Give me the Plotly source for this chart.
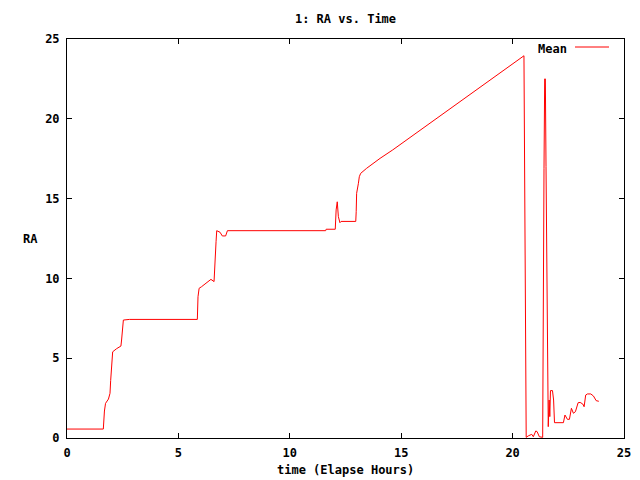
import plotly.graph_objects as go

time_hours = [0, 1.63, 1.68, 1.73, 1.86, 1.93, 1.96, 2.0, 2.05, 2.23, 2.42, 2.45, 2.5, 2.53, 2.8,
              5.85, 5.88, 5.93, 6.04, 6.27, 6.46, 6.6, 6.64, 6.69, 6.72, 6.87, 6.97, 7.12, 7.2,
              11.61, 11.63, 12.04, 12.08, 12.13, 12.18, 12.25, 12.3, 12.96, 12.98, 13.0, 13.08,
              13.12, 13.18, 13.45, 14.05, 14.62, 20.51, 20.53, 20.57, 20.61, 20.7, 20.86, 20.93,
              21.04, 21.1, 21.2, 21.35, 21.36, 21.41, 21.44, 21.47, 21.5, 21.57, 21.6, 21.64,
              21.67, 21.7, 21.79, 21.84, 21.88, 22.28, 22.35, 22.46, 22.55, 22.64, 22.73, 22.82,
              22.94, 23.03, 23.15, 23.21, 23.28, 23.36, 23.51, 23.63, 23.75, 23.87]
ra_mean = [0.56, 0.56, 1.69, 2.17, 2.44, 2.8, 3.6, 4.78, 5.4, 5.6, 5.76, 6.14, 7.0, 7.39, 7.43,
           7.43, 8.85, 9.38, 9.48, 9.73, 9.94, 9.8, 10.63, 12.3, 12.99, 12.89, 12.66, 12.66, 12.99,
           12.99, 13.08, 13.08, 14.29, 14.8, 13.87, 13.49, 13.57, 13.57, 14.18, 15.33, 15.96,
           16.37, 16.58, 16.9, 17.52, 18.05, 23.95, 18.05, 5.93, 0.04, 0.13, 0.23, 0.08,
           0.44, 0.4, 0.08, 0.04, 5.6, 16.9, 22.5, 22.5, 17.0, 6.1, 0.71, 2.38,
           1.34, 2.97, 2.97, 2.38, 0.96, 0.96, 1.44, 1.17, 1.17, 1.86, 1.55, 1.65,
           2.21, 2.23, 2.13, 1.96, 2.69, 2.76, 2.76, 2.63, 2.34, 2.3]

tick_vals = [0, 5, 10, 15, 20, 25]
tick_text = ["0", "5", "10", "15", "20", "25"]

FONT = dict(family="DejaVu Sans Mono", size=12, color="black", weight="bold")

fig = go.Figure()
fig.add_trace(go.Scatter(x=time_hours, y=ra_mean, mode="lines", name="Mean",
                         line=dict(color="#ff0000", width=1), showlegend=False))

axis_common = dict(range=[0, 25], tickvals=tick_vals, ticktext=tick_text,
                   ticks="inside", ticklen=5, tickwidth=1, tickcolor="black",
                   showline=True, linecolor="black", linewidth=1, mirror="ticks",
                   showgrid=False, zeroline=False, tickfont=FONT, ticklabelstandoff=4)

# plot area in page pixels: x 67..624, y 39..438 (page has 8px body offset)
fig.update_layout(
    width=632, height=472,
    margin=dict(l=59, r=16, t=31, b=42, autoexpand=False),
    paper_bgcolor="white", plot_bgcolor="white",
    font=FONT,
    title=dict(text="1: RA vs. Time", x=0.5, xref="paper", xanchor="center",
               y=1 - 11 / 472, yanchor="middle", font=FONT),
    xaxis=dict(**axis_common),
    yaxis=dict(**axis_common),
    annotations=[
        dict(text="time (Elapse Hours)", xref="paper", yref="paper", x=0.5, y=(438 - 470) / 399,
             xanchor="center", yanchor="middle", showarrow=False, font=FONT),
        dict(text="RA", xref="paper", yref="paper", x=(30 - 67) / 557, y=0.5,
             xanchor="center", yanchor="middle", showarrow=False, font=FONT),
        dict(text="Mean", xref="paper", yref="paper", x=(569 - 67) / 557, y=(438 - 49) / 399,
             xanchor="right", yanchor="middle", showarrow=False, font=FONT),
    ],
    shapes=[
        dict(type="line", xref="paper", yref="paper",
             x0=(575 - 67) / 557, x1=(609 - 67) / 557,
             y0=(438 - 47) / 399, y1=(438 - 47) / 399,
             line=dict(color="#ff0000", width=1)),
    ],
)

fig.write_html("out.html")
